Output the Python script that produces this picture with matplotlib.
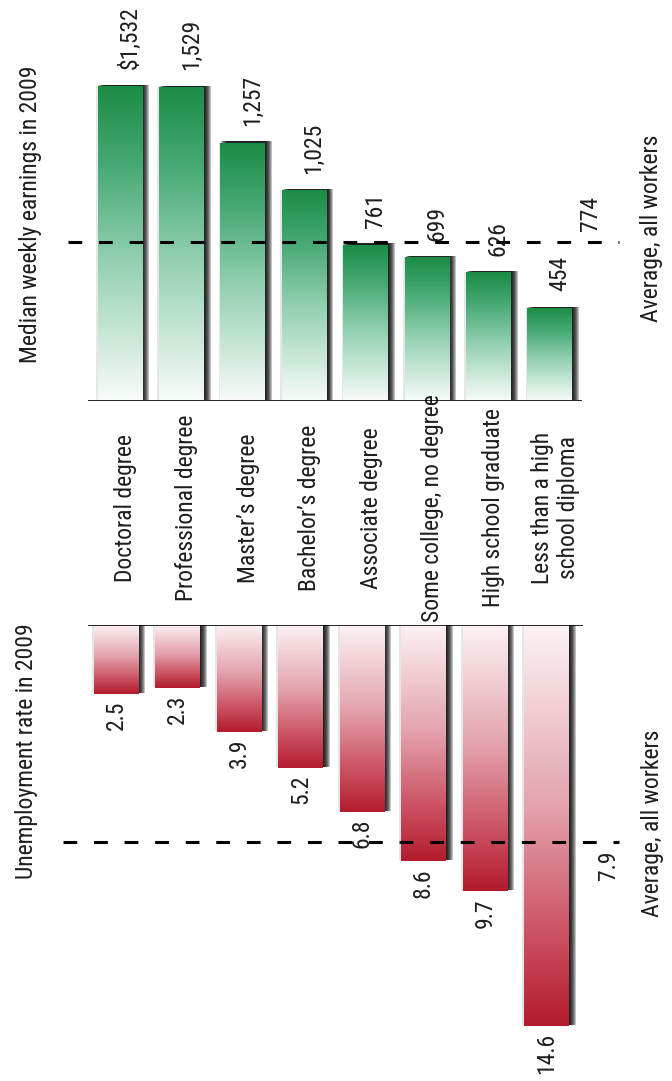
import matplotlib
matplotlib.use('Agg')
import matplotlib.pyplot as plt
import matplotlib.patheffects as pe
from matplotlib import font_manager
from matplotlib.colors import LinearSegmentedColormap
import numpy as np

# education level vs. earnings / unemployment, 2009
categories = ['Doctoral degree', 'Professional degree', 'Master\u2019s degree',
              'Bachelor\u2019s degree', 'Associate degree',
              'Some college, no degree', 'High school graduate',
              'Less than a high\nschool diploma']
earnings = [1532, 1529, 1257, 1025, 761, 699, 626, 454]
unemployment = [2.5, 2.3, 3.9, 5.2, 6.8, 8.6, 9.7, 14.6]
avg_earnings = 774
avg_unemployment = 7.9

# narrow face if one is around
have = {f.name for f in font_manager.fontManager.ttflist}
narrow = [f for f in ('Liberation Sans Narrow', 'Roboto Condensed',
                      'Open Sans Condensed', 'Noto Sans Condensed')
          if f in have]
plt.rcParams['font.family'] = narrow + ['Noto Sans', 'DejaVu Sans']
plt.rcParams['font.stretch'] = 'condensed'
fs = 17
txt_col = '#1e1e1e'

green = LinearSegmentedColormap.from_list(
    'grn', [(0.0, '#f8fbf9'), (0.45, '#92d0b0'), (0.75, '#47a974'),
            (1.0, '#1b8c45')])
red = LinearSegmentedColormap.from_list(
    'rd', [(0.0, '#fcf2f4'), (0.45, '#e4a3ad'), (0.75, '#cd5767'),
           (1.0, '#b31b2c')])
grad = np.linspace(0, 1, 256).reshape(-1, 1)


def bar_shadow():
    # soft drop shadow, stacked offsets fake a blur
    fx = [pe.SimplePatchShadow(offset=(-1.2, 0.5), shadow_rgbFace='0.35',
                               alpha=0.15)]
    for dx in (0.7, 1.4, 2.1, 2.8, 3.5, 4.2, 4.9):
        fx.append(pe.SimplePatchShadow(offset=(dx, 0.8), shadow_rgbFace='k',
                                       alpha=0.24))
    fx.append(pe.Normal())
    return fx


def gradient_bars(ax, x, vals, cmap):
    bars = ax.bar(x, vals, width=0.73, color=cmap(1.0), zorder=2,
                  path_effects=bar_shadow())
    for b in bars:
        x0, w, h = b.get_x(), b.get_width(), b.get_height()
        im = ax.imshow(grad, cmap=cmap, extent=(x0, x0 + w, 0, h),
                       origin='lower', aspect='auto', zorder=3,
                       interpolation='bilinear')
        im.set_clip_path(b)
    return bars


W, H = 672, 1081
fig = plt.figure(figsize=(W / 100, H / 100), dpi=100)
x = np.arange(len(categories))

# ==============================================================================
# Median weekly earnings
ax1 = fig.add_axes([0, 1 - 401 / H, 1, 401 / H])
gradient_bars(ax1, x, earnings, green)
ax1.plot([x[0] - 0.52, x[-1] + 0.52], [0, 0], color='k', lw=1.2,
         solid_capstyle='butt', zorder=4)
ax1.plot([x[0] - 0.85, x[-1] + 1.13], [avg_earnings] * 2, color='k', lw=2.2,
         ls=(0, (4.5, 5.5)), zorder=5)
for i, v in enumerate(earnings):
    lbl = ('${:,}' if i == 0 else '{:,}').format(v)
    ax1.annotate(lbl, (x[i] + 0.16, v), xytext=(0, 12),
                 textcoords='offset points', rotation=90, ha='center',
                 va='bottom', fontsize=fs, color=txt_col)
ax1.annotate('{:,}'.format(avg_earnings), (x[-1] + 0.67, avg_earnings),
             xytext=(0, 8), textcoords='offset points', rotation=90,
             ha='center', va='bottom', fontsize=fs, color=txt_col,
             annotation_clip=False)
ax1.annotate('Average, all workers', (x[-1] + 1.65, avg_earnings),
             xytext=(0, 9.5), textcoords='offset points', rotation=90,
             ha='center', va='center', fontsize=fs, color=txt_col,
             annotation_clip=False)
for i, c in enumerate(categories):
    ax1.annotate(c, (x[i], 0), xytext=(4, -77), textcoords='offset points',
                 rotation=90, ha='center', va='center', multialignment='center',
                 fontsize=fs, color=txt_col, linespacing=1.15,
                 annotation_clip=False)
ax1.set_xlim(-120 / 61.4, (W - 120) / 61.4)
ax1.set_ylim(0, 401 / 0.2056)
ax1.axis('off')

# ==============================================================================
# Unemployment rate, bars hang down from the baseline
ax2 = fig.add_axes([0, 0, 1, (H - 625) / H])
gradient_bars(ax2, x, unemployment, red)
ax2.plot([x[0] - 0.46, x[-1] + 0.59], [0, 0], color='k', lw=1.2,
         solid_capstyle='butt', zorder=4)
ax2.plot([x[0] - 0.86, x[-1] + 1.18], [avg_unemployment] * 2, color='k',
         lw=2.2, ls=(0, (4.5, 5.5)), zorder=5)
for i, v in enumerate(unemployment):
    ax2.annotate('{:.1f}'.format(v), (x[i], v), xytext=(0, -5),
                 textcoords='offset points', rotation=90, ha='center',
                 va='top', fontsize=fs, color=txt_col)
ax2.annotate('{:.1f}'.format(avg_unemployment),
             (x[-1] + 1.0, avg_unemployment), xytext=(0, -6),
             textcoords='offset points', rotation=90, ha='center', va='top',
             fontsize=fs, color=txt_col, annotation_clip=False)
ax2.annotate('Average, all workers', (x[-1] + 1.72, avg_unemployment),
             xytext=(0, 13), textcoords='offset points', rotation=90,
             ha='center', va='center', fontsize=fs, color=txt_col,
             annotation_clip=False)
ax2.set_xlim(-116 / 61.5, (W - 116) / 61.5)
ax2.set_ylim((H - 625) / 27.45, 0)
ax2.axis('off')

fig.text(31 / W, 1 - 214 / H, 'Median weekly earnings in 2009', rotation=90,
         ha='center', va='center', fontsize=fs, color=txt_col)
fig.text(27 / W, 1 - 751 / H, 'Unemployment rate in 2009', rotation=90,
         ha='center', va='center', fontsize=fs, color=txt_col)

fig.savefig('out.png', dpi=100, facecolor='white')
